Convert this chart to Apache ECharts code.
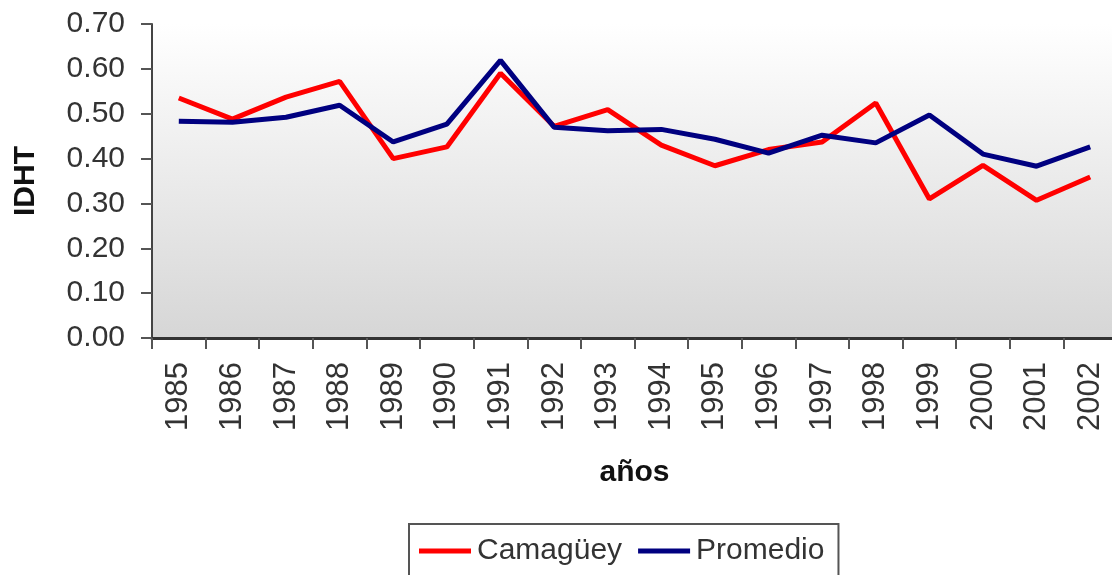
<!DOCTYPE html>
<html>
<head>
<meta charset="utf-8">
<script src="https://cdn.jsdelivr.net/npm/echarts@6/dist/echarts.min.js"></script>
<style>
  html, body { margin: 0; padding: 0; background: #fff; }
  #lineChart { width: 1112px; height: 575px; }
</style>
</head>
<body>
<div id="lineChart"></div>
<script>
// datos
const years = ["1985", "1986", "1987", "1988", "1989", "1990", "1991", "1992", "1993",
  "1994", "1995", "1996", "1997", "1998", "1999", "2000", "2001", "2002"];
const camaguey = [0.535, 0.488, 0.537, 0.572, 0.400, 0.426, 0.590, 0.472, 0.509,
  0.430, 0.384, 0.420, 0.437, 0.524, 0.310, 0.385, 0.307, 0.359];
const promedio = [0.483, 0.481, 0.492, 0.519, 0.437, 0.477, 0.619, 0.470, 0.462,
  0.465, 0.443, 0.412, 0.452, 0.435, 0.497, 0.410, 0.383, 0.426];

const font = "Liberation Sans, Arial, sans-serif";
const chart = echarts.init(document.getElementById("lineChart"));

const option = {
  animation: false,
  grid: {
    left: 152,
    top: 24,
    width: 965,
    height: 314,
    outerBoundsMode: "none",
    containLabel: false,
    show: true,
    borderWidth: 0,
    backgroundColor: new echarts.graphic.LinearGradient(0, 0, 0, 1, [
      { offset: 0, color: "#ffffff" },
      { offset: 1, color: "#d6d6d6" },
    ]),
  },
  legend: {
    data: ["Camagüey", "Promedio"],
    left: 409,
    top: 524,
    icon: "rect",
    itemWidth: 52,
    itemHeight: 5,
    itemGap: 16,
    padding: [12, 14, 30, 10],
    borderColor: "#555",
    borderWidth: 2,
    textStyle: { fontFamily: font, fontSize: 30, color: "#333", padding: [0, 0, 0, 1] },
  },
  xAxis: {
    type: "category",
    data: years,
    name: "años",
    nameLocation: "middle",
    nameGap: 120,
    nameTextStyle: { fontFamily: font, fontSize: 30, fontWeight: "bold", color: "#111" },
    axisLine: { lineStyle: { color: "#333", width: 3 } },
    axisTick: { show: true, length: 11, interval: 0, lineStyle: { color: "#555", width: 2 } },
    axisLabel: {
      interval: 0,
      rotate: 90,
      margin: 24,
      fontFamily: font,
      fontSize: 31,
      color: "#333",
    },
    splitLine: { show: false },
  },
  yAxis: {
    type: "value",
    min: 0,
    max: 0.7,
    interval: 0.1,
    name: "IDHT",
    nameLocation: "middle",
    nameGap: 111,
    nameTextStyle: { fontFamily: font, fontSize: 30, fontWeight: "bold", color: "#111" },
    axisLine: { show: true, lineStyle: { color: "#444", width: 2 } },
    axisTick: { show: true, length: 11, lineStyle: { color: "#555", width: 2 } },
    axisLabel: {
      margin: 27,
      fontFamily: font,
      fontSize: 30,
      color: "#333",
      formatter: (v) => v.toFixed(2),
    },
    splitLine: { show: false },
  },
  series: [
    {
      name: "Camagüey",
      type: "line",
      data: camaguey,
      color: "#ff0000",
      symbol: "none",
      lineStyle: { width: 5, color: "#ff0000" },
    },
    {
      name: "Promedio",
      type: "line",
      data: promedio,
      color: "#000080",
      symbol: "none",
      lineStyle: { width: 5, color: "#000080" },
    },
  ],
};

chart.setOption(option);
</script>
</body>
</html>
